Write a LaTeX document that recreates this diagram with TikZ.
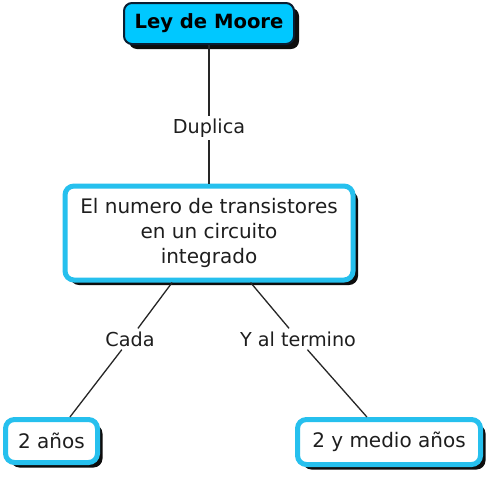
\documentclass[tikz,border=0pt]{standalone}
\usepackage{fontspec}
\setmainfont{DejaVu Sans}
\usetikzlibrary{shadows}
\definecolor{cyanfill}{RGB}{0,200,255}
\definecolor{cyanbord}{RGB}{38,192,238}
\definecolor{topbord}{RGB}{10,30,50}
\definecolor{txt}{RGB}{30,30,30}
\tikzset{
  shad/.style={drop shadow={shadow xshift=5pt, shadow yshift=-5pt, fill=black, opacity=0.95}},
  topbox/.style={shad, draw=topbord, line width=2pt, fill=cyanfill, rounded corners=8pt,
     inner sep=0pt, font=\fontsize{19.6}{22.5}\selectfont\bfseries, text=black},
  conbox/.style={shad, draw=cyanbord, line width=5pt, fill=white, rounded corners=9pt,
     inner sep=0pt, align=center, font=\fontsize{20}{23.5}\selectfont, text=txt},
  lab/.style={inner sep=3pt, font=\fontsize{19.2}{22}\selectfont, text=txt},
  conn/.style={draw=black!85, line width=1.3pt}
}
\begin{document}
\begin{tikzpicture}[x=1pt,y=-1pt]
\useasboundingbox[fill=white] (0,0) rectangle (492,480);
\node[topbox, minimum width=170pt, minimum height=41pt] (top) at (209,23.5) {Ley de Moore};
\node[conbox, minimum width=288pt, minimum height=94pt] (mid) at (209,233) {El numero de transistores\\[1.5pt]en un circuito\\[1.5pt]integrado};
\node[conbox, minimum width=92pt, minimum height=43pt] (bl) at (51.5,441) {2 años};
\node[conbox, minimum width=183pt, minimum height=45pt] (br) at (389,442) {2 y medio años};
\node[lab] (dup) at (209,128) {Duplica};
\node[lab] (cada) at (130,339) {Cada};
\node[lab] (yal) at (298,339) {Y al termino};
\draw[conn] (top) -- (dup);
\draw[conn] (dup) -- (mid);
\draw[conn] (mid) -- (cada);
\draw[conn] (cada) -- (bl);
\draw[conn] (mid) -- (yal);
\draw[conn] (yal) -- (br);
\end{tikzpicture}
\end{document}
